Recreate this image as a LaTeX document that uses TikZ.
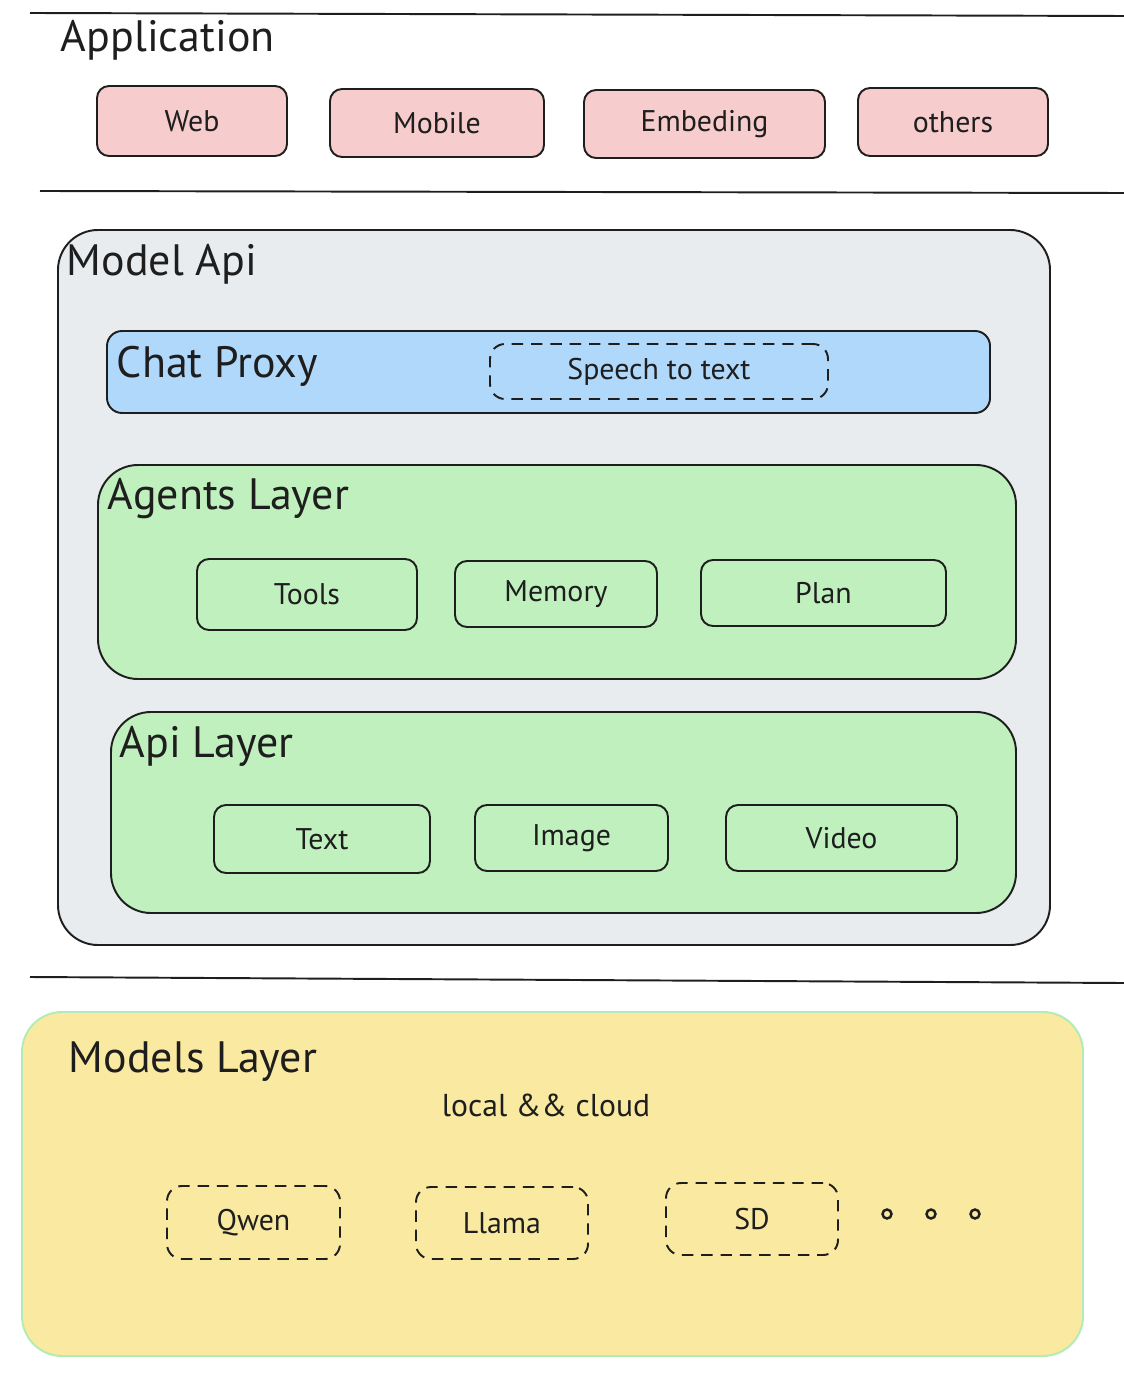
\documentclass[tikz,border=0pt]{standalone}
\usepackage{fontspec}
\setmainfont{PT Sans}
\usetikzlibrary{fit}
\definecolor{apppink}{RGB}{246,204,204}
\definecolor{apigray}{RGB}{232,236,239}
\definecolor{proxyblue}{RGB}{176,216,250}
\definecolor{layergreen}{RGB}{192,240,190}
\definecolor{modelyellow}{RGB}{250,233,160}
\definecolor{edgegreen}{RGB}{178,236,180}
\definecolor{ink}{RGB}{30,30,30}
\begin{document}
\begin{tikzpicture}[x=0.02cm, y=-0.02cm, line width=1.1pt, draw=ink,
    big title/.style={anchor=west, inner sep=0pt, font=\fontsize{25}{30}\selectfont},
    item box/.style={draw=ink, rounded corners=0.24cm, inner sep=0pt,
      label={[font=\fontsize{17}{20}\selectfont, text=ink]center:#1}},
    app box/.style={item box=#1, fill=apppink},
    layer box/.style={draw=ink, rounded corners=0.8cm, inner sep=0pt},
    dash box/.style={item box=#1, dash pattern=on 6.5pt off 4.5pt, rounded corners=0.3cm},
    dot/.style={circle, draw=ink, line width=1.4pt, minimum size=0.18cm, inner sep=0pt}]
  \tikzstyle{every node}=[text=ink]
  \useasboundingbox (0,0) rectangle (1124,1398);

  % application row
  \draw (30,13) -- (1124,16);
  \node[big title] (apptitle) at (60,40) {Application};
  \node[app box=Web, fit={(97,86) (287,156)}] (web) {};
  \node[app box=Mobile, fit={(330,89) (544,157)}] (mobile) {};
  \node[app box=Embeding, fit={(584,90) (825,158)}] (embed) {};
  \node[app box=others, fit={(858,88) (1048,156)}] (others) {};
  \draw (40,191) -- (1124,193);

  % model api
  \node[layer box, fill=apigray, fit={(58,230) (1050,945)}] (modelapi) {};
  \node[big title] (apititle) at (66,264) {Model Api};

  \node[layer box, fill=proxyblue, rounded corners=0.3cm, fit={(107,331) (990,413)}] (proxy) {};
  \node[big title] (proxytitle) at (116,366) {Chat Proxy};
  \node[dash box=Speech to text, fit={(490,344) (828,399)}] (speech) {};

  \node[layer box, fill=layergreen, fit={(98,465) (1016,679)}] (agents) {};
  \node[big title] (agentstitle) at (107,499) {Agents Layer};
  \node[item box=Tools, fit={(197,559) (417,630)}] (tools) {};
  \node[item box=Memory, fit={(455,561) (657,627)}] (memory) {};
  \node[item box=Plan, fit={(701,560) (946,626)}] (plan) {};

  \node[layer box, fill=layergreen, fit={(111,712) (1016,913)}] (apilayer) {};
  \node[big title] (apilayertitle) at (119,746) {Api Layer};
  \node[item box=Text, fit={(214,805) (430,873)}] (text) {};
  \node[item box=Image, fit={(475,805) (668,871)}] (image) {};
  \node[item box=Video, fit={(726,805) (957,871)}] (video) {};

  \draw (30,977) -- (1124,983);

  % models layer
  \node[layer box, draw=edgegreen, fill=modelyellow, fit={(22,1012) (1083,1356)}] (models) {};
  \node[big title] (modelstitle) at (68,1062) {Models Layer};
  \node[font=\fontsize{18}{22}\selectfont] (where) at (546,1105) {local \&\& cloud};
  \node[dash box=Qwen, fit={(167,1186) (340,1259)}] (qwen) {};
  \node[dash box=Llama, fit={(416,1187) (588,1259)}] (llama) {};
  \node[dash box=SD, fit={(666,1183) (838,1255)}] (sd) {};
  \node[dot] (more1) at (887,1214) {};
  \node[dot] (more2) at (931,1214) {};
  \node[dot] (more3) at (975,1214) {};
\end{tikzpicture}
\end{document}
